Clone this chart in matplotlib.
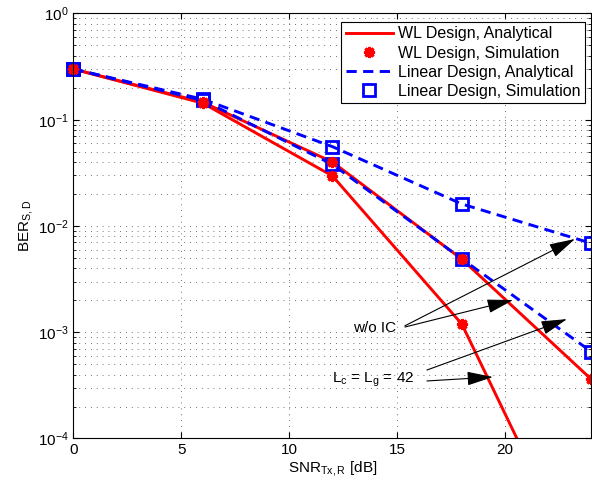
import matplotlib
matplotlib.use("Agg")
import matplotlib.pyplot as plt
from matplotlib.ticker import LogLocator, NullFormatter, FixedLocator

plt.rcParams["font.family"] = ["Liberation Sans", "DejaVu Sans"]
plt.rcParams["mathtext.fontset"] = "custom"
plt.rcParams["mathtext.rm"] = "Liberation Sans"
plt.rcParams["mathtext.it"] = "Liberation Sans:italic"
plt.rcParams["font.size"] = 11

# SNR grid (dB)
snr = [0, 6, 12, 18, 24]

# widely linear design, with interference cancellation (Lc = Lg = 42)
wl_ic = [0.30, 0.143, 0.0296, 0.00119, 3.5e-6]
# widely linear design, without IC
wl_noic = [0.30, 0.146, 0.040, 0.00486, 3.6e-4]
# linear design, without IC
lin_noic = [0.30, 0.156, 0.0558, 0.0161, 0.00687]
# linear design, with IC
lin_ic = [0.30, 0.152, 0.038, 0.0049, 6.56e-4]

# simulation points
wl_ic_sim = [0.30, 0.143, 0.0296, 0.00119, 3.5e-6]
wl_noic_sim = [0.30, 0.146, 0.040, 0.00486, 3.6e-4]
lin_noic_sim = [0.30, 0.156, 0.0558, 0.0161, 0.00687]
lin_ic_sim = [0.30, 0.152, 0.038, 0.0049, 6.56e-4]

RED = "#ff0000"
BLUE = "#0000ff"
STAR = (8, 2, 0)
DASH = (0, (3.5, 2.2))

fig = plt.figure(figsize=(5.92, 4.87), dpi=100)
ax = fig.add_axes([0.124, 0.0996, 0.875, 0.8727])

ax.plot(snr, wl_ic, color=RED, lw=2.1, label="WL Design, Analytical")
ax.plot(snr, wl_noic, color=RED, lw=2.1)
ax.plot(snr, lin_noic, color=BLUE, lw=2.1, ls=DASH, label="Linear Design, Analytical")
ax.plot(snr, lin_ic, color=BLUE, lw=2.1, ls=DASH)
ax.plot(snr, lin_noic_sim, ls="none", marker="s", ms=8, mfc="none", mec=BLUE, mew=2,
        clip_on=False, label="Linear Design, Simulation")
ax.plot(snr, lin_ic_sim, ls="none", marker="s", ms=8, mfc="none", mec=BLUE, mew=2, clip_on=False)
ax.plot(snr, wl_ic_sim, ls="none", marker=STAR, ms=8, color=RED, mec=RED, mew=2.2,
        clip_on=False, label="WL Design, Simulation")
ax.plot(snr, wl_noic_sim, ls="none", marker=STAR, ms=8, color=RED, mec=RED, mew=2.2, clip_on=False)

ax.set_yscale("log")
ax.set_xlim(0, 24)
ax.set_ylim(1e-4, 1)
ax.xaxis.set_major_locator(FixedLocator([0, 5, 10, 15, 20]))
ax.yaxis.set_major_locator(LogLocator(base=10, numticks=10))
ax.yaxis.set_minor_locator(LogLocator(base=10, subs=range(2, 10), numticks=10))
ax.yaxis.set_minor_formatter(NullFormatter())

ax.grid(True, which="major", axis="both", ls=(0, (1, 6)), color="#444444", lw=0.6)
ax.grid(True, which="minor", axis="y", ls=(0, (1, 6)), color="#444444", lw=0.6)
ax.tick_params(which="both", direction="in", top=True, right=True)
ax.tick_params(which="major", length=4)
ax.tick_params(which="minor", length=2)
for sp in ax.spines.values():
    sp.set_linewidth(0.8)

ax.set_xlabel(r"SNR$_{\mathrm{Tx,R}}$ [dB]", labelpad=1)
ax.set_ylabel(r"BER$_{\mathrm{S,D}}$", labelpad=2)

arrow = dict(arrowstyle="-|>,head_length=0.9,head_width=0.24", color="black", lw=0.8,
             mutation_scale=18, shrinkA=0, shrinkB=0)
ax.annotate("", xy=(23.24, 7.55e-3), xytext=(15.36, 1.15e-3), arrowprops=arrow)
ax.annotate("", xy=(20.37, 2.01e-3), xytext=(15.36, 1.12e-3), arrowprops=arrow)
ax.text(13.97, 1.1e-3, "w/o IC", ha="center", va="center")
ax.annotate("", xy=(22.87, 1.33e-3), xytext=(16.38, 4.41e-4), arrowprops=arrow)
ax.annotate("", xy=(19.44, 3.79e-4), xytext=(16.38, 3.48e-4), arrowprops=arrow)
ax.text(13.88, 3.56e-4, r"L$_{\mathrm{c}}$ = L$_{\mathrm{g}}$ = 42", ha="center", va="center")

h, l = ax.get_legend_handles_labels()
order = [l.index(s) for s in ["WL Design, Analytical", "WL Design, Simulation",
                              "Linear Design, Analytical", "Linear Design, Simulation"]]
leg = ax.legend([h[i] for i in order], [l[i] for i in order], loc="upper right",
                bbox_to_anchor=(0.988, 0.98), fancybox=False, edgecolor="black",
                framealpha=1, fontsize=11.5, handlelength=3.0, labelspacing=0.26,
                borderpad=0.28, borderaxespad=0, handletextpad=0.3)
leg.get_frame().set_linewidth(0.8)

fig.savefig("out.png", dpi=100)
